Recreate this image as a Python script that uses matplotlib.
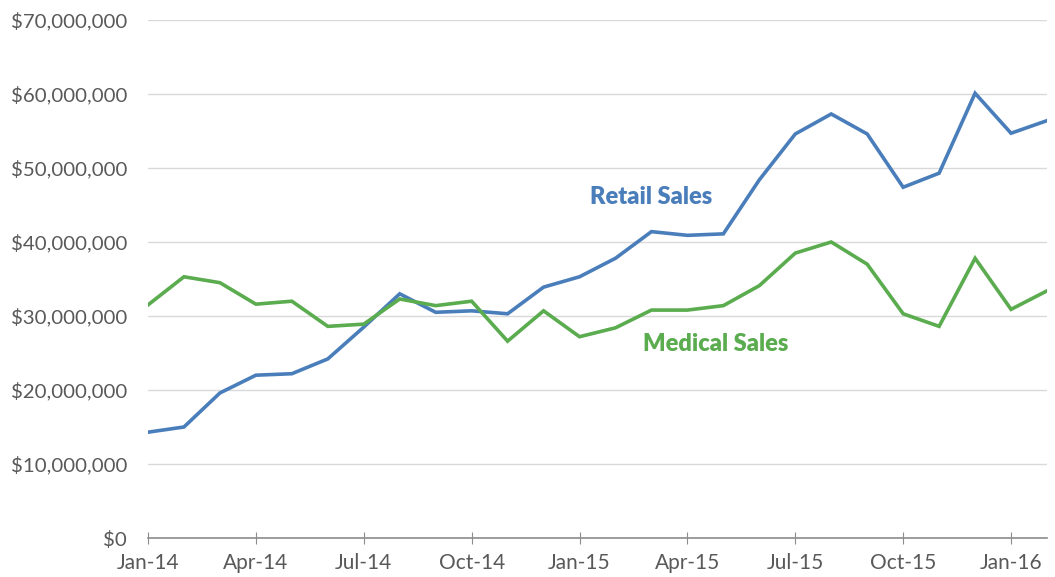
import matplotlib.pyplot as plt
from matplotlib.ticker import FuncFormatter

# monthly sales, Jan-14 .. Feb-16 (millions of $)
months = ['Jan-14', 'Feb-14', 'Mar-14', 'Apr-14', 'May-14', 'Jun-14', 'Jul-14', 'Aug-14',
          'Sep-14', 'Oct-14', 'Nov-14', 'Dec-14', 'Jan-15', 'Feb-15', 'Mar-15', 'Apr-15',
          'May-15', 'Jun-15', 'Jul-15', 'Aug-15', 'Sep-15', 'Oct-15', 'Nov-15', 'Dec-15',
          'Jan-16', 'Feb-16']
retail = [14.3, 15.0, 19.6, 22.0, 22.2, 24.2, 28.5, 33.0, 30.5, 30.7, 30.3, 33.9, 35.3,
          37.8, 41.4, 40.9, 41.1, 48.4, 54.6, 57.3, 54.6, 47.4, 49.3, 60.1, 54.7, 56.4]
medical = [31.5, 35.3, 34.5, 31.6, 32.0, 28.6, 28.9, 32.3, 31.4, 32.0, 26.6, 30.7, 27.2,
           28.4, 30.8, 30.8, 31.4, 34.1, 38.5, 40.0, 37.0, 30.3, 28.6, 37.8, 30.9, 33.4]
yticks = [0, 10, 20, 30, 40, 50, 60, 70]

plt.rcParams['font.family'] = ['Lato', 'DejaVu Sans']

blue = '#4a7ebb'
green = '#5aac4f'

fig = plt.figure(figsize=(10.55, 5.77), dpi=100)
ax = fig.add_axes([148 / 1055, 1 - 538 / 577, (1047 - 148) / 1055, (538 - 20) / 577])

x = list(range(len(months)))
ax.plot(x, [v * 1e6 for v in retail], color=blue, lw=2.6, solid_joinstyle='miter')
ax.plot(x, [v * 1e6 for v in medical], color=green, lw=2.6, solid_joinstyle='miter')

ax.text(14.0, 46.1e6, 'Retail Sales', color=blue, fontsize=17, fontweight='heavy',
        ha='center', va='center')
ax.text(15.8, 26.2e6, 'Medical Sales', color=green, fontsize=17, fontweight='heavy',
        ha='center', va='center')

ax.set_xlim(0, len(months) - 1)
ax.set_ylim(0, 70e6)
ax.set_yticks([v * 1e6 for v in yticks])
ax.yaxis.set_major_formatter(FuncFormatter(lambda v, p: '${:,.0f}'.format(v)))
ax.set_xticks(x[::3])
ax.set_xticklabels(months[::3])

ax.grid(axis='y', color='#d9d9d9', lw=1)
ax.set_axisbelow(True)
for s in ['top', 'right', 'left']:
    ax.spines[s].set_visible(False)
ax.spines['bottom'].set_color('#8c8c8c')
ax.spines['bottom'].set_linewidth(1.2)
ax.tick_params(axis='y', length=0, labelsize=14.7, labelcolor='#595959', pad=15)
ax.tick_params(axis='x', direction='inout', length=8, color='#8c8c8c',
               labelsize=15, labelcolor='#595959', pad=7)

fig.savefig('out.png', dpi=100)
